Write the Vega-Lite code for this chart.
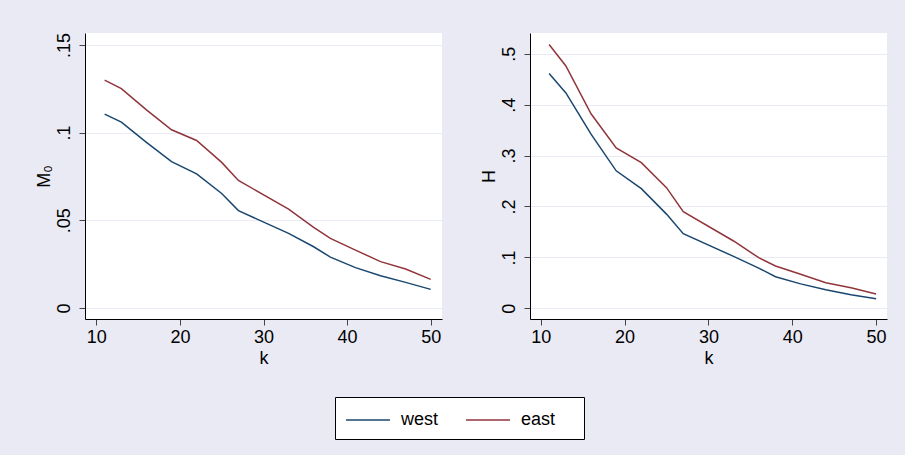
{
  "$schema": "https://vega.github.io/schema/vega-lite/v6.json",
  "description": "M0 and H against k, west and east",
  "background": "#EAEAF4",
  "padding": {"left": 35, "top": 32, "right": 18, "bottom": 15},
  "datasets": {
    "pts": [
      {"k": 11, "region": "west", "m0": 0.1105, "h": 0.461},
      {"k": 13, "region": "west", "m0": 0.106, "h": 0.423},
      {"k": 16, "region": "west", "m0": 0.0944, "h": 0.342},
      {"k": 19, "region": "west", "m0": 0.0834, "h": 0.270},
      {"k": 22, "region": "west", "m0": 0.0765, "h": 0.235},
      {"k": 25, "region": "west", "m0": 0.0653, "h": 0.185},
      {"k": 27, "region": "west", "m0": 0.0555, "h": 0.1465},
      {"k": 33, "region": "west", "m0": 0.0425, "h": 0.102},
      {"k": 36, "region": "west", "m0": 0.0349, "h": 0.079},
      {"k": 38, "region": "west", "m0": 0.029, "h": 0.0621},
      {"k": 41, "region": "west", "m0": 0.023, "h": 0.048},
      {"k": 44, "region": "west", "m0": 0.0184, "h": 0.0366},
      {"k": 47, "region": "west", "m0": 0.0146, "h": 0.0268},
      {"k": 50, "region": "west", "m0": 0.0106, "h": 0.0189},
      {"k": 11, "region": "east", "m0": 0.1299, "h": 0.518},
      {"k": 13, "region": "east", "m0": 0.1251, "h": 0.476},
      {"k": 16, "region": "east", "m0": 0.113, "h": 0.382},
      {"k": 19, "region": "east", "m0": 0.1016, "h": 0.315},
      {"k": 22, "region": "east", "m0": 0.0955, "h": 0.286},
      {"k": 25, "region": "east", "m0": 0.083, "h": 0.237},
      {"k": 27, "region": "east", "m0": 0.0727, "h": 0.1897},
      {"k": 33, "region": "east", "m0": 0.0564, "h": 0.1322},
      {"k": 36, "region": "east", "m0": 0.0459, "h": 0.0994},
      {"k": 38, "region": "east", "m0": 0.0397, "h": 0.0831},
      {"k": 41, "region": "east", "m0": 0.033, "h": 0.067},
      {"k": 44, "region": "east", "m0": 0.0264, "h": 0.0503},
      {"k": 47, "region": "east", "m0": 0.0222, "h": 0.0405},
      {"k": 50, "region": "east", "m0": 0.0163, "h": 0.0281}
    ]
  },
  "spacing": 37,
  "hconcat": [
    {
      "width": 357,
      "height": 286,
      "data": {"name": "pts"},
      "mark": {"type": "line", "strokeWidth": 1.5},
      "encoding": {
        "x": {
          "field": "k",
          "type": "quantitative",
          "scale": {"domain": [8.65, 51.35], "nice": false, "zero": false},
          "axis": {"values": [10, 20, 30, 40, 50], "title": "k"}
        },
        "y": {
          "field": "m0",
          "type": "quantitative",
          "scale": {"domain": [-0.0063, 0.1568], "nice": false},
          "axis": {
            "values": [0, 0.05, 0.1, 0.15],
            "title": "M₀",
            "labelExpr": "datum.value == 0 ? '0' : slice(format(datum.value, '~g'), 1)"
          }
        },
        "color": {
          "field": "region",
          "type": "nominal",
          "scale": {"domain": ["west", "east"], "range": ["#1A476F", "#90353B"]},
          "legend": {
            "title": "\u2800",
            "titleOrient": "right",
            "titleFontSize": 1,
            "titlePadding": 18,
            "orient": "none",
            "legendX": 250,
            "legendY": 364,
            "direction": "horizontal"
          }
        }
      }
    },
    {
      "width": 357,
      "height": 286,
      "data": {"name": "pts"},
      "mark": {"type": "line", "strokeWidth": 1.5},
      "encoding": {
        "x": {
          "field": "k",
          "type": "quantitative",
          "scale": {"domain": [8.72, 51.3], "nice": false, "zero": false},
          "axis": {"values": [10, 20, 30, 40, 50], "title": "k"}
        },
        "y": {
          "field": "h",
          "type": "quantitative",
          "scale": {"domain": [-0.021, 0.5407], "nice": false},
          "axis": {
            "values": [0, 0.1, 0.2, 0.3, 0.4, 0.5],
            "title": "H",
            "labelExpr": "datum.value == 0 ? '0' : slice(format(datum.value, '~g'), 1)"
          }
        },
        "color": {
          "field": "region",
          "type": "nominal",
          "legend": {
            "title": "\u2800",
            "titleOrient": "right",
            "titleFontSize": 1,
            "titlePadding": 18,
            "orient": "none",
            "legendX": 250,
            "legendY": 364,
            "direction": "horizontal"
          }
        }
      }
    }
  ],
  "resolve": {"scale": {"color": "shared"}},
  "config": {
    "font": "Liberation Sans",
    "view": {"fill": "white", "stroke": null},
    "axis": {
      "domainColor": "black",
      "domainWidth": 1,
      "tickColor": "#444444",
      "tickSize": 6,
      "labelFont": "Liberation Sans",
      "labelFontSize": 18,
      "labelColor": "black",
      "titleFont": "Liberation Sans",
      "titleFontSize": 18,
      "titleFontWeight": "normal",
      "titleColor": "black",
      "gridColor": "#EAEAF4",
      "gridWidth": 1.2
    },
    "axisX": {"grid": false, "labelPadding": 3, "titlePadding": 3},
    "axisY": {
      "grid": true,
      "labelAngle": 270,
      "labelAlign": "center",
      "labelBaseline": "alphabetic",
      "labelPadding": 10,
      "titlePadding": 2
    },
    "legend": {
      "fillColor": "white",
      "strokeColor": "black",
      "padding": 10,
      "symbolType": "M-1,0H2.67",
      "symbolSize": 576,
      "symbolStrokeWidth": 1.5,
      "labelOffset": 30,
      "labelFontSize": 18,
      "labelFont": "Liberation Sans",
      "labelColor": "black",
      "columnPadding": 24
    }
  }
}
